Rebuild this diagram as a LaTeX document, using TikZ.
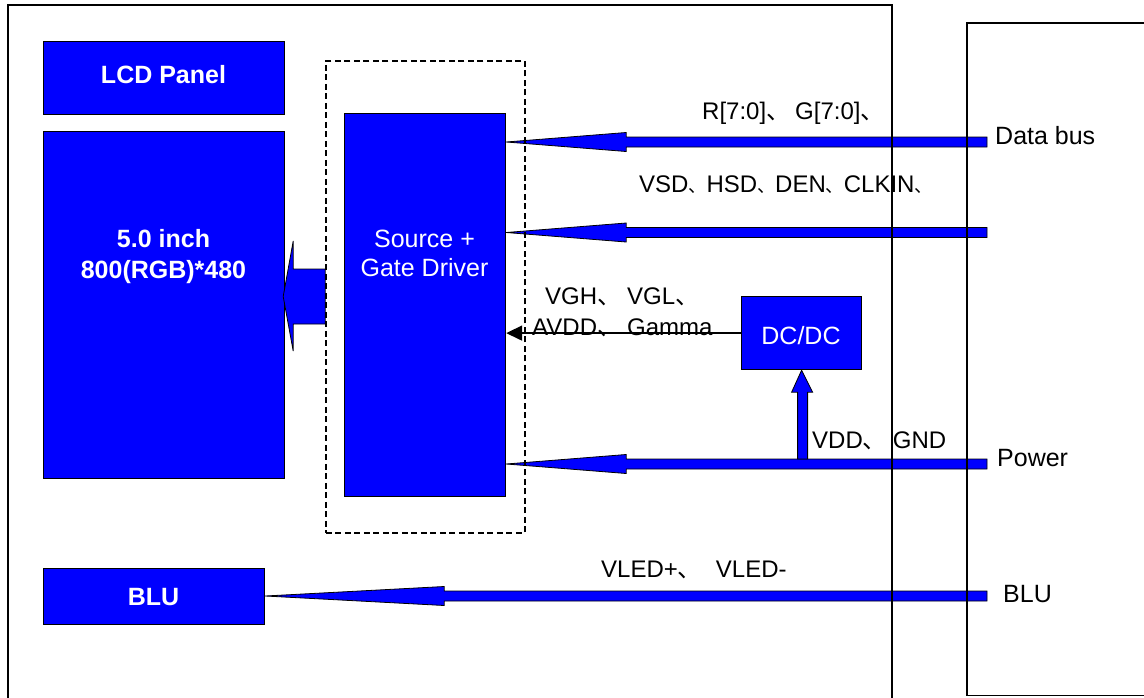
\documentclass[tikz,border=0pt]{standalone}
\usepackage{fontspec}
\setmainfont{Liberation Sans}
\newfontfamily\cjk{Noto Sans CJK SC}
\usetikzlibrary{calc,arrows.meta}
\definecolor{pblue}{RGB}{0,0,255}
\newcommand\dn{{\cjk 、}}
\newcommand\sdn{{\cjk\fontsize{18}{22}\selectfont 、}}
\newcommand\blockL[3]{% tip, end, head length
  \draw[blockarr] (#1) -- ($(#1)+(#3,9.5)$) -- ($(#1)+(#3,5)$) -- ($(#2)+(0,5)$)
    -- ($(#2)+(0,-5)$) -- ($(#1)+(#3,-5)$) -- ($(#1)+(#3,-9.5)$) -- cycle;}
\begin{document}
\begin{tikzpicture}[x=1pt,y=-1pt,
  bluebox/.style={draw=black, line width=1.2pt, fill=pblue, inner sep=0pt, anchor=north west},
  blockarr/.style={draw=black, line width=0.8pt, fill=pblue, line join=miter},
  frame/.style={draw=black, line width=1.8pt},
  wbold/.style={text=white, inner sep=0pt, anchor=base, font=\fontsize{25}{29}\bfseries\selectfont},
  wreg/.style={text=white, inner sep=0pt, anchor=base, font=\fontsize{25}{29}\selectfont},
  lab/.style={text=black, inner sep=0pt, anchor=base west, font=\fontsize{24}{28}\selectfont},
  rlab/.style={text=black, inner sep=0pt, anchor=base west, font=\fontsize{25}{29}\selectfont},
  thinarr/.style={draw=black, line width=1.6pt, -{Triangle[length=16pt,width=15pt]}},
  dashbox/.style={draw=black, line width=1.7pt, dash pattern=on 6pt off 3.5pt}]
\useasboundingbox (0,0) rectangle (1144,697);
\fill[white] (0,0) rectangle (1144,697);

% boxes
\node[bluebox, minimum width=241pt, minimum height=73pt] (lcd) at (43,41) {};
\node[bluebox, minimum width=241pt, minimum height=347pt] (panel) at (43,131) {};
\node[bluebox, minimum width=221pt, minimum height=56pt] (blu) at (43,568) {};
\node[bluebox, minimum width=161pt, minimum height=383pt] (src) at (344,113) {};
\node[bluebox, minimum width=120pt, minimum height=73pt] (dcdc) at (741,296) {};

% box texts
\node[wbold] (lcdt) at (163.5,83) {LCD Panel};
\node[wbold] (pt1) at (163.5,247) {5.0 inch};
\node[wbold] (pt2) at (163.5,278) {800(RGB)*480};
\node[wbold] (blut) at (153.5,605) {BLU};
\node[wreg] (st1) at (424.5,247) {Source +};
\node[wreg] (st2) at (424.5,276) {Gate Driver};
\node[wreg] (dct) at (801,344) {DC/DC};

% connector end points
\coordinate (dbend) at (987,142);
\coordinate (ctend) at (987,232.5);
\coordinate (pwend) at (987,464);
\coordinate (blend) at (987,596);
\coordinate (pwjoin) at (dcdc.south |- 0,459);

% block arrows
\blockL{src.east |- dbend}{dbend}{120}
\blockL{src.east |- ctend}{ctend}{120}
\blockL{src.east |- pwend}{pwend}{120}
\blockL{blu.east |- blend}{blend}{179}

% up arrow into DC/DC
\draw[blockarr] (dcdc.south) -- ($(dcdc.south)+(-10,22)$) -- ($(dcdc.south)+(-4,22)$)
  -- ($(pwjoin)+(-4,0)$) -- ($(pwjoin)+(6,0)$) -- ($(dcdc.south)+(6,22)$)
  -- ($(dcdc.south)+(11,22)$) -- cycle;

% big arrow to panel
\coordinate (ptip) at ($(panel.east |- 0,296.5)+(-2,0)$);
\draw[blockarr] (ptip) -- ($(ptip)+(10,-55.5)$) -- ($(ptip)+(10,-27.5)$) -- ($(ptip)+(42,-27.5)$)
  -- ($(ptip)+(42,27.5)$) -- ($(ptip)+(10,27.5)$) -- ($(ptip)+(10,54.5)$) -- cycle;

% thin arrow from DC/DC
\draw[thinarr] (dcdc.west) -- (src.east |- dcdc.west);

% dashed driver box
\node[dashbox, minimum width=199pt, minimum height=472pt, inner sep=0pt, anchor=north west] (drv) at (325,60) {};

% labels
\node[lab] (l1) at (702,119) {R[7:0]\dn\hspace{5pt}G[7:0]\dn};
\node[lab] (l2) at (639,192) {VSD\sdn HSD\sdn DEN\sdn CLKIN\sdn};
\node[lab] (l3) at (545,304) {VGH\dn\hspace{6pt}VGL\dn};
\node[lab] (l4) at (532,335) {AVDD\dn\hspace{6pt}Gamma};
\node[lab] (l5) at (812,448) {VDD\dn\hspace{6pt}GND};
\node[lab] (l6) at (601,577) {VLED+\dn\hspace{14pt}VLED-};
\node[rlab] (r1) at (995,144) {Data bus};
\node[rlab] (r2) at (997,466) {Power};
\node[rlab] (r3) at (1003,602) {BLU};

% frames
\draw[frame] (8,698) -- (8,5) -- (892,5) -- (892,698);
\draw[frame] (1146,23) -- (967,23) -- (967,695.5) -- (1146,695.5);
\end{tikzpicture}
\end{document}
